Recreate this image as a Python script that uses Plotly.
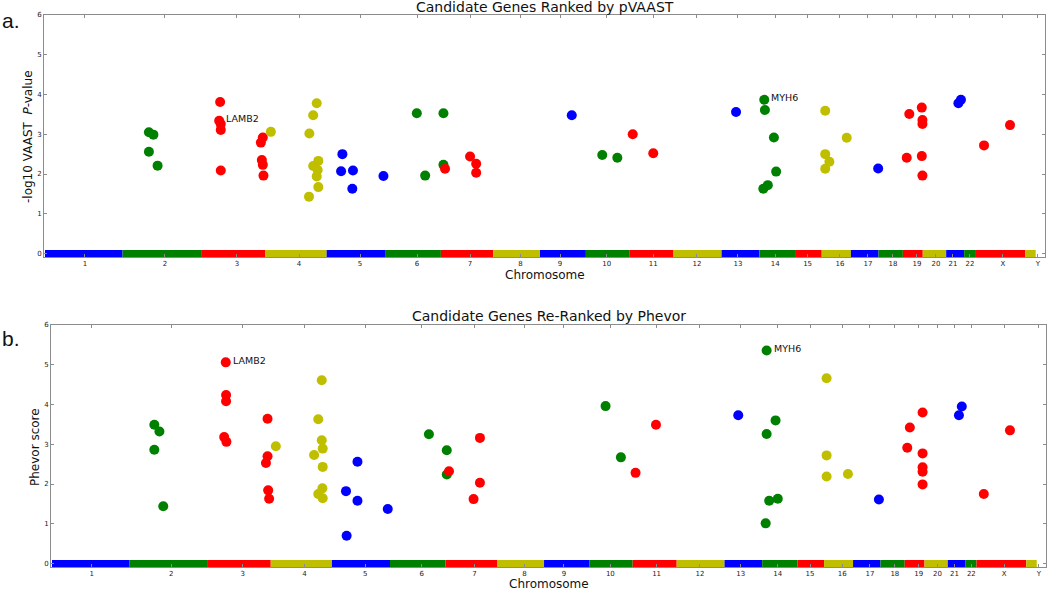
import plotly.graph_objects as go

# ---------------- data ----------------
chrom_names = ["1", "2", "3", "4", "5", "6", "7", "8", "9", "10", "11", "12",
               "13", "14", "15", "16", "17", "18", "19", "20", "21", "22", "X", "Y"]
# genome-wide start of each chromosome band (Mb) and end of the last one
chrom_starts = [0, 242, 489, 686, 878, 1060, 1234, 1397, 1543, 1686, 1821, 1959,
                2109, 2227, 2338, 2421, 2512, 2598, 2674, 2736, 2809, 2865, 2899, 3055]
genome_end = 3088
tick_pos = [124.7, 374, 598.5, 791.8, 982, 1159.6, 1324.8, 1482, 1605.4, 1751, 1896, 2032,
            2160, 2276, 2377, 2478, 2565, 2643, 2718, 2777, 2830, 2883, 2986, 3095]

# panel a: pVAAST
a_chrom = ["2", "2", "2", "2",
           "3", "3", "3", "3", "3", "3", "3", "3", "3", "3",
           "4", "4", "4", "4", "4", "4", "4", "4", "4", "4",
           "5", "5", "5", "5", "5",
           "6", "6", "6", "6",
           "7", "7", "7", "7",
           "9", "10", "10", "11", "11", "13",
           "14", "14", "14", "14", "14", "14",
           "16", "16", "16", "16", "16", "17",
           "19", "19", "19", "19", "19", "19", "19",
           "21", "21", "X", "X"]
a_pos = [324, 338, 324, 351,
         546, 543, 548, 548, 548, 679, 673, 676, 679, 681,
         704, 847, 836, 824, 852, 836, 850, 847, 852, 823,
         927, 923, 960, 958, 1055,
         1159, 1242, 1185, 1242,
         1247, 1325, 1344, 1344,
         1642, 1737, 1784, 1832, 1896, 2154,
         2242, 2244, 2272, 2279, 2239, 2253,
         2432, 2499, 2432, 2445, 2432, 2597,
         2694, 2733, 2735, 2735, 2686, 2733, 2735,
         2847, 2855, 2927, 3008]
a_score = [3.05, 2.99, 2.56, 2.21,
           3.81, 3.34, 3.26, 3.11, 2.09, 2.92, 2.79, 2.35, 2.23, 1.96,
           3.06, 3.78, 3.48, 3.02, 2.33, 2.20, 2.10, 1.94, 1.67, 1.43,
           2.50, 2.07, 2.09, 1.63, 1.95,
           3.53, 3.53, 1.96, 2.23,
           2.13, 2.44, 2.26, 2.03,
           3.48, 2.48, 2.41, 3.00, 2.52, 3.56,
           3.87, 3.61, 2.92, 2.06, 1.63, 1.72,
           3.59, 2.91, 2.50, 2.31, 2.13, 2.14,
           3.51, 3.67, 3.36, 3.26, 2.41, 2.45, 1.96,
           3.78, 3.87, 2.72, 3.23]

# panel b: Phevor
b_chrom = ["2", "2", "2", "2",
           "3", "3", "3", "3", "3", "3", "3", "3", "3", "3",
           "4", "4", "4", "4", "4", "4", "4", "4", "4", "4",
           "5", "5", "5", "5", "5",
           "6", "6", "6",
           "7", "7", "7", "7",
           "10", "10", "11", "11", "13",
           "14", "14", "14", "14", "14", "14",
           "16", "16", "16", "16", "17",
           "19", "19", "19", "19", "19", "19", "19",
           "21", "21", "X", "X"]
b_pos = [321, 337, 321, 349,
         545, 546, 546, 540, 547, 676, 676, 671, 678, 681,
         702, 846, 835, 846, 849, 822, 849, 848, 835, 849,
         922, 924, 958, 958, 1053,
         1182, 1238, 1238,
         1245, 1342, 1342, 1322,
         1736, 1784, 1830, 1894, 2152,
         2241, 2269, 2241, 2249, 2276, 2238,
         2429, 2429, 2429, 2496, 2593,
         2690, 2730, 2682, 2730, 2730, 2730, 2730,
         2844, 2853, 2922, 3004]
b_score = [3.49, 3.32, 2.86, 1.44,
           5.06, 4.24, 4.08, 3.18, 3.06, 3.64, 2.70, 2.53, 1.84, 1.63,
           2.95, 4.61, 3.63, 3.10, 2.89, 2.73, 2.43, 1.89, 1.75, 1.64,
           1.82, 0.70, 2.56, 1.58, 1.37,
           3.25, 2.85, 2.24,
           2.32, 3.16, 2.03, 1.62,
           3.96, 2.67, 2.28, 3.49, 3.73,
           5.36, 3.60, 3.26, 1.58, 1.63, 1.01,
           4.66, 2.72, 2.19, 2.25, 1.61,
           3.42, 3.80, 2.91, 2.77, 2.42, 2.31, 1.99,
           3.73, 3.95, 1.75, 3.35]

# labelled genes: (name, position, score)
a_labels = [("LAMB2", 543, 3.34), ("MYH6", 2242, 3.87)]
b_labels = [("LAMB2", 545, 5.06), ("MYH6", 2241, 5.36)]

palette = ["#0000ff", "#008000", "#ff0000", "#bfbf00"]

# ---------------- figure ----------------
W, H = 1050, 590
fig = go.Figure()

def color_of(ch):
    return palette[chrom_names.index(ch) % 4]

panels = [("x", "y", a_chrom, a_pos, a_score), ("x2", "y2", b_chrom, b_pos, b_score)]
ends = chrom_starts[1:] + [genome_end]
for xa, ya, chs, pos, sc in panels:
    for i, name in enumerate(chrom_names):
        fig.add_trace(go.Scatter(
            x=[chrom_starts[i], ends[i]], y=[0, 0], mode="lines",
            line=dict(color=palette[i % 4], width=7),
            xaxis=xa, yaxis=ya, hoverinfo="skip", showlegend=False))
    fig.add_trace(go.Scatter(
        x=pos, y=sc, mode="markers",
        marker=dict(size=10, color=[color_of(c) for c in chs], line=dict(width=0)),
        xaxis=xa, yaxis=ya, showlegend=False, cliponaxis=False))

spine = "#8c8c8c"
tickfont = dict(family="DejaVu Sans", size=7, color="#222222")

def xaxis_cfg(domain, anchor):
    return dict(domain=domain, anchor=anchor, range=[-3, 3117], autorange=False,
                automargin=False,
                tickmode="array", tickvals=tick_pos, ticktext=chrom_names,
                ticks="inside", ticklen=3, tickcolor=spine, mirror="ticks",
                showline=True, linecolor=spine, linewidth=1,
                showgrid=False, zeroline=False, tickfont=tickfont)

def yaxis_cfg(domain, anchor):
    return dict(domain=domain, anchor=anchor, range=[-0.088, 6], autorange=False,
                automargin=False,
                tickmode="array", tickvals=[0, 1, 2, 3, 4, 5, 6],
                ticks="inside", ticklen=3, tickcolor=spine, mirror="ticks",
                showline=True, linecolor=spine, linewidth=1,
                showgrid=False, zeroline=False, tickfont=tickfont)

fig.update_layout(
    template="none",
    width=W, height=H, margin=dict(l=0, r=0, t=0, b=0, pad=0),
    paper_bgcolor="white", plot_bgcolor="white", showlegend=False,
    xaxis=xaxis_cfg([44 / W, 1045 / W], "y"),
    yaxis=yaxis_cfg([1 - 257 / H, 1 - 15 / H], "x"),
    xaxis2=xaxis_cfg([51 / W, 1046 / W], "y2"),
    yaxis2=yaxis_cfg([1 - 567 / H, 1 - 325 / H], "x2"),
)

ann = []
txt = dict(family="DejaVu Sans", color="#111111")

def paper_text(text, px, py, size, angle=0, family=None, xanchor="center"):
    f = dict(size=size, **txt)
    if family:
        f["family"] = family
    ann.append(dict(text=text, x=px / W, y=1 - py / H, xref="paper", yref="paper",
                    xanchor=xanchor, yanchor="middle", showarrow=False,
                    textangle=angle, font=f))

# titles
paper_text("Candidate Genes Ranked by pVAAST", 544.5, 7, 14)
paper_text("Candidate Genes Re-Ranked by Phevor", 548.5, 316, 14)
# x labels
paper_text("Chromosome", 544.5, 275, 12)
paper_text("Chromosome", 548.5, 584, 12)
# y labels
paper_text("-log10 VAAST  <i>P</i>-value", 28, 137, 12, angle=-90)
paper_text("Phevor score", 35, 447, 12, angle=-90)
# panel letters
paper_text("a.", 0, 20, 21, family="Liberation Sans", xanchor="left")
paper_text("b.", 0, 338, 21, family="Liberation Sans", xanchor="left")
# gene labels
for (xr, yr, labels) in [("x", "y", a_labels), ("x2", "y2", b_labels)]:
    for name, px, py in labels:
        ann.append(dict(text=name, x=px, y=py, xref=xr, yref=yr, xanchor="left",
                        yanchor="middle", xshift=5, yshift=2, showarrow=False,
                        font=dict(size=9.5, **txt)))

fig.update_layout(annotations=ann)
fig.write_html("out.html", config={"displayModeBar": False},
               post_script="document.body.style.margin='0px';document.body.style.overflow='hidden';")
